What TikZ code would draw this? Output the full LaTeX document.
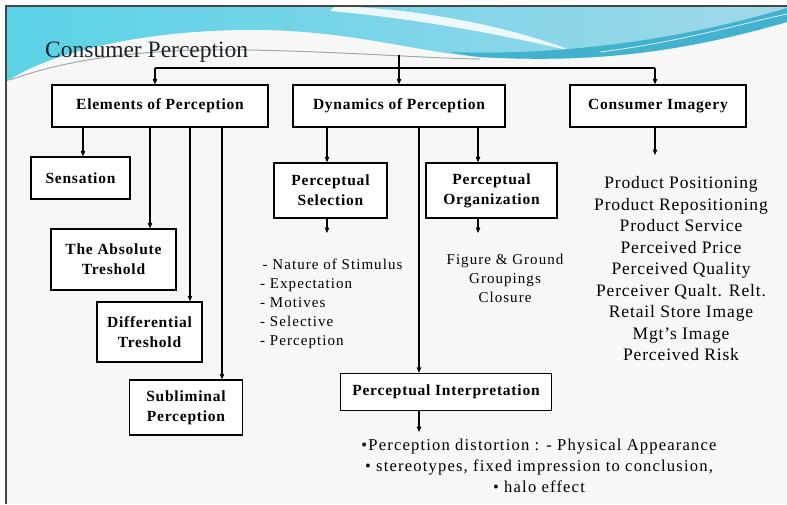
\documentclass[tikz,border=0pt]{standalone}
\usepackage{fontspec}
\setmainfont{Liberation Serif}
\newfontfamily\boxfont[LetterSpace=5]{Liberation Serif}
\newfontfamily\listfont[LetterSpace=7]{Liberation Serif}
\usetikzlibrary{arrows.meta}

\definecolor{paper}{RGB}{247,247,247}
\definecolor{frameline}{RGB}{70,70,70}
\definecolor{waveL}{RGB}{90,210,230}
\definecolor{waveM}{RGB}{118,186,216}
\definecolor{waveR}{RGB}{160,216,234}
\definecolor{waveBand}{RGB}{58,174,203}
\definecolor{streak}{RGB}{120,136,140}
\definecolor{titleink}{RGB}{25,35,40}

\tikzset{
  box/.style={draw=black, line width=1.4pt, fill=white, align=center, inner sep=0pt,
    font=\boxfont\bfseries\fontsize{15.5}{20}\selectfont},
  link/.style={line width=1.1pt, -{Triangle[length=5.5pt,width=4.5pt]}},
  bus/.style={line width=2.2pt},
  listtxt/.style={inner sep=0pt, text=black}
}

\begin{document}
\begin{tikzpicture}[x=1pt,y=-1pt]
  % page and frame
  \useasboundingbox (0,0) rectangle (787,504);
  \fill[white] (0,0) rectangle (787,504);
  \fill[paper] (6,6) rectangle (787,504);

  % decorative wave along the top
  \shade[left color=waveL, middle color=waveM, right color=waveR]
    (6,6) -- (787,6) -- (787,22)
    .. controls (690,50) and (600,64) .. (480,57)
    .. controls (420,52) and (370,36) .. (290,31)
    .. controls (180,25) and (60,45) .. (6,82) -- cycle;
  \fill[white, opacity=0.85]
    (335,6) .. controls (430,9) and (520,30) .. (575,52)
    .. controls (510,36) and (420,19) .. (330,11) -- cycle;
  \fill[waveBand, opacity=0.9]
    (450,52) .. controls (560,56) and (680,40) .. (787,8)
    -- (787,22) .. controls (690,50) and (600,64) .. (480,57)
    .. controls (470,56) and (460,54) .. (450,52) -- cycle;
  \draw[white, line width=0.8pt, opacity=0.8]
    (600,52) .. controls (680,42) and (740,24) .. (787,14);
  \draw[streak, line width=1pt, opacity=0.7]
    (10,80) .. controls (70,58) and (150,48) .. (250,50)
    .. controls (350,52) and (420,58) .. (480,59);

  \draw[frameline, line width=1.4pt] (6,504) -- (6,6) -- (787,6);

  % title
  \node[anchor=base west, inner sep=0pt, text=titleink,
        font=\fontsize{23.5}{27}\selectfont] (title) at (45,57) {Consumer Perception};

  % top level boxes
  \node[box, minimum width=216pt, minimum height=42pt] (elem) at (160,106) {Elements of Perception};
  \node[box, minimum width=212pt, minimum height=42pt] (dyn)  at (399,106) {Dynamics of Perception};
  \node[box, minimum width=176pt, minimum height=42pt] (img)  at (658,106) {Consumer Imagery};

  % elements of perception
  \node[box, minimum width=99pt,  minimum height=42pt] (sens) at (80.5,178) {Sensation};
  \node[box, minimum width=125pt, minimum height=61pt] (abs)  at (113.5,259.5) {The Absolute\\Treshold};
  \node[box, minimum width=105pt, minimum height=60pt] (diff) at (149.5,332) {Differential\\Treshold};
  \node[box, minimum width=113pt, minimum height=55pt] (subl) at (186,407.5) {Subliminal\\Perception};

  % dynamics of perception
  \node[box, minimum width=113pt, minimum height=55pt] (psel) at (330.5,190.5) {Perceptual\\Selection};
  \node[box, minimum width=131pt, minimum height=55pt] (porg) at (491.5,190.5) {Perceptual\\Organization};
  \node[box, minimum width=211pt, minimum height=37pt] (pint) at (446,392) {Perceptual Interpretation};

  % text lists
  \node[listtxt, anchor=west, align=left, font=\listfont\fontsize{15}{19}\selectfont]
    (sellist) at (260,303.5)
    {\,- Nature of Stimulus\\- Expectation\\- Motives\\- Selective\\- Perception};
  \node[listtxt, align=center, font=\listfont\fontsize{15}{19}\selectfont]
    (orglist) at (505,278) {Figure \& Ground\\Groupings\\Closure};
  \node[listtxt, align=center, font=\boxfont\fontsize{17.5}{21.5}\selectfont]
    (imglist) at (681,269)
    {Product Positioning\\Product Repositioning\\Product Service\\Perceived Price\\
     Perceived Quality\\Perceiver Qualt. Relt.\\Retail Store Image\\Mgt’s Image\\Perceived Risk};
  \node[listtxt, align=center, font=\listfont\fontsize{16.6}{21.3}\selectfont]
    (intlist) at (539,466)
    {•Perception distortion : - Physical Appearance\\
     • stereotypes, fixed impression to conclusion,\\
     • halo effect};

  % connector junctions and free arrow ends
  \coordinate (top)  at (399,55);
  \coordinate (busL) at (155,68);
  \coordinate (busM) at (399,68);
  \coordinate (busR) at (655,68);
  \coordinate (selEnd) at (327,233);
  \coordinate (orgEnd) at (478,233);
  \coordinate (imgEnd) at (655,155);
  \coordinate (intEnd) at (419,432);

  % main bus
  \draw[line width=1.1pt] (top) -- (busM);
  \draw[bus] (busL) -- (busR);
  \draw[link] (busL) -- (busL |- elem.north);
  \draw[link] (busM) -- (busM |- dyn.north);
  \draw[link] (busR) -- (busR |- img.north);

  % branches of elements of perception
  \draw[link] (elem.south -| 83,0)  -- (sens.north -| 83,0);
  \draw[link] (elem.south -| 150,0) -- (abs.north -| 150,0);
  \draw[link] (elem.south -| 190,0) -- (diff.north -| 190,0);
  \draw[link] (elem.south -| 222,0) -- (subl.north -| 222,0);

  % branches of dynamics of perception
  \draw[link] (dyn.south -| selEnd) -- (psel.north -| selEnd);
  \draw[link] (dyn.south -| orgEnd) -- (porg.north -| orgEnd);
  \draw[link] (dyn.south -| intEnd) -- (pint.north -| intEnd);

  % arrows towards the lists
  \draw[link] (psel.south -| selEnd) -- (selEnd);
  \draw[link] (porg.south -| orgEnd) -- (orgEnd);
  \draw[link] (img.south -| imgEnd) -- (imgEnd);
  \draw[link] (pint.south -| intEnd) -- (intEnd);
\end{tikzpicture}
\end{document}
